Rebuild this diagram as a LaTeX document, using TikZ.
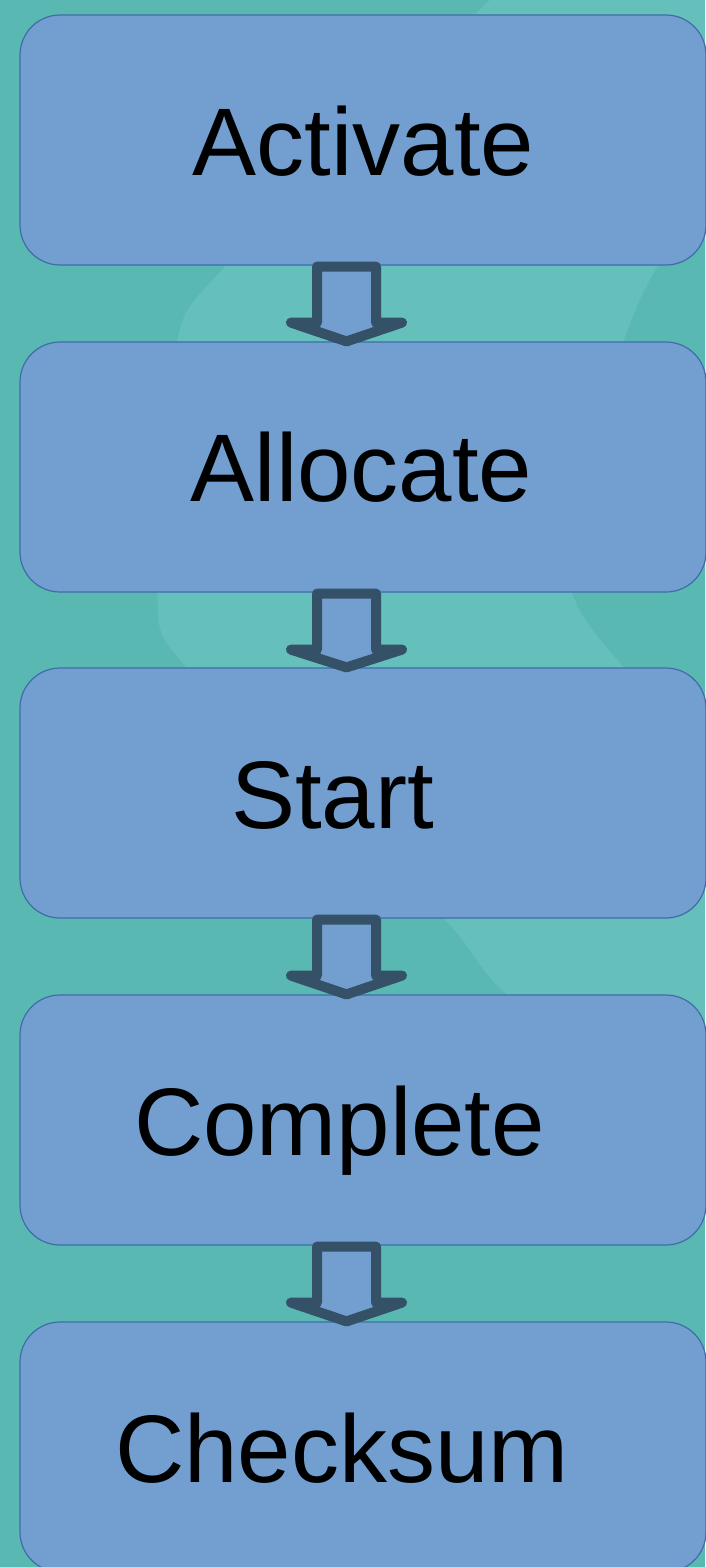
\documentclass[tikz,border=0pt]{standalone}
\usepackage{fontspec}
\setmainfont{Liberation Sans}
\usetikzlibrary{calc}
\definecolor{bgdark}{HTML}{5AB8B2}
\definecolor{bglight}{HTML}{65BFBB}
\definecolor{boxfill}{HTML}{729FCF}
\definecolor{boxline}{HTML}{3E6DAA}
\definecolor{arrline}{HTML}{345168}
\tikzset{
  stepbox/.style={draw=boxline, line width=1.2pt, fill=boxfill, rounded corners=40pt,
    minimum width=686pt, minimum height=250pt, inner sep=0pt},
  steptext/.style={anchor=base, inner sep=0pt, font=\fontsize{96}{100}\selectfont, text=black},
  blockarr/.style={draw=arrline, line width=10pt, fill=boxfill, line join=round, line cap=round}
}
\newcommand{\blockarrow}[2]{%
  \draw[blockarr] ($(#1.south -| ax)+(-29.5,1)$) -- ++(59,0) -- ++(0,56) -- ++(26,0)
    -- ($(#2.north -| ax)$) -- ($(#1.south -| ax)+(-55.5,57)$) -- ++(26,0) -- cycle;}
\begin{document}
\begin{tikzpicture}[x=1pt,y=-1pt]
\useasboundingbox (0,0) rectangle (705,1567);
\begin{scope}
\clip (0,0) rectangle (705,1567);
\fill[bgdark] (0,0) rectangle (705,1567);
\fill[bglight] plot[smooth cycle] coordinates {(600,-80) (490,0) (229,262) (175,350) (157,590) (193,675) (436,910) (513,1000) (720,1150) (900,700) (850,0)};
\fill[bgdark] plot[smooth cycle] coordinates {(760,150) (661,262) (620,350) (565,500) (575,600) (630,675) (720,780) (850,500)};
\end{scope}
\coordinate (ax) at (346.5,0);
\node[stepbox] (b1) at (363,140) {};
\node[stepbox] (b2) at (363,467) {};
\node[stepbox] (b3) at (363,793) {};
\node[stepbox] (b4) at (363,1120) {};
\node[stepbox] (b5) at (363,1447) {};
\node[steptext] (t1) at (363.5,175) {Activate};
\node[steptext] (t2) at (361.5,501) {Allocate};
\node[steptext] (t3) at (332.5,828) {Start};
\node[steptext] (t4) at (339.5,1155) {Complete};
\node[steptext] (t5) at (342,1482) {Checksum};
\blockarrow{b1}{b2}
\blockarrow{b2}{b3}
\blockarrow{b3}{b4}
\blockarrow{b4}{b5}
\end{tikzpicture}
\end{document}
